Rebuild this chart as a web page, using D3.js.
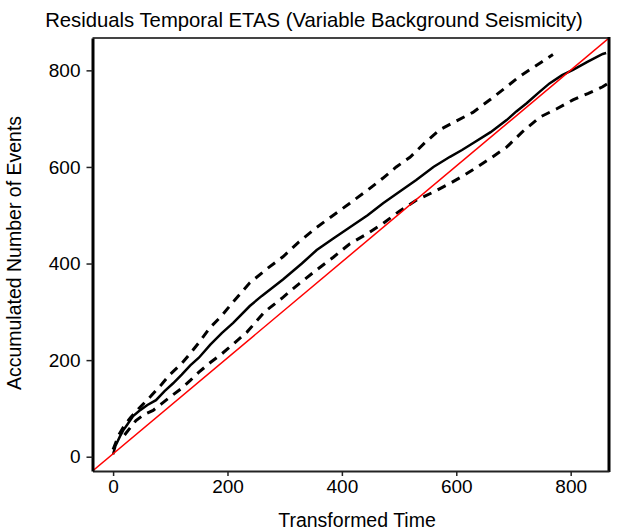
<!DOCTYPE html>
<html>
<head>
<meta charset="utf-8">
<script src="https://cdn.jsdelivr.net/npm/d3@7"></script>
<style>
  html, body { margin: 0; padding: 0; background: #fff; }
  svg { display: block; }
  text { font-family: "Liberation Sans", Arial, sans-serif; fill: #000; }
</style>
</head>
<body>
<svg id="chart" width="622" height="531"></svg>
<script>
// ---- data ----
const title = "Residuals Temporal ETAS (Variable Background Seismicity)";
const xLabel = "Transformed Time";
const yLabel = "Accumulated Number of Events";
const xTicks = [0, 200, 400, 600, 800];
const yTicks = [0, 200, 400, 600, 800];
const xDomain = [-36, 867];
const yDomain = [-29.6, 867];

// observed cumulative events vs transformed time
const observed = [
  [0, 5], [4, 22], [8, 32], [12, 42], [18, 55], [24, 65], [35, 84], [48, 97],
  [60, 107], [75, 117], [90, 136], [105, 152], [120, 170], [135, 189], [150, 205],
  [170, 232], [190, 256], [210, 277], [239, 312], [260, 333], [297, 367], [330, 400],
  [356, 428], [385, 452], [414, 475], [445, 500], [472, 525], [500, 548], [530, 573],
  [560, 600], [589, 621], [610, 635], [629, 649], [660, 672], [688, 697], [705, 715],
  [723, 732], [745, 755], [763, 773], [785, 790], [804, 801], [830, 818], [856, 834],
  [862, 836]
];
// upper confidence bound
const upperBound = [
  [0, 15], [10, 45], [20, 65], [30, 80], [45, 100], [65, 124], [85, 150], [100, 171],
  [120, 193], [135, 214], [150, 236], [170, 268], [190, 292], [208, 318], [239, 360],
  [270, 390], [297, 414], [325, 445], [356, 475], [385, 500], [414, 525], [445, 552],
  [472, 577], [495, 600], [519, 620], [545, 650], [571, 677], [600, 695], [629, 713],
  [660, 740], [688, 766], [708, 785], [728, 801], [750, 818], [769, 833]
];
// lower confidence bound
const lowerBound = [
  [20, 45], [40, 75], [55, 88], [70, 96], [85, 110], [100, 124], [118, 140], [135, 158],
  [150, 175], [170, 195], [190, 213], [204, 227], [234, 258], [265, 300], [297, 330],
  [325, 358], [356, 387], [385, 413], [414, 441], [445, 462], [472, 483], [500, 508],
  [530, 531], [560, 548], [589, 566], [610, 580], [629, 594], [660, 618], [688, 641],
  [715, 672], [746, 703], [775, 720], [804, 739], [830, 752], [856, 766], [866, 774]
];
// expected line (corner to corner)
const expected = [[-36, -29.6], [867, 867]];

// ---- layout ----
const svg = d3.select("#chart");
const pLeft = 92.5, pRight = 609, pTop = 38, pBottom = 471;

const x = d3.scaleLinear().domain(xDomain).range([pLeft, pRight]);
const y = d3.scaleLinear().domain(yDomain).range([pBottom, pTop]);

svg.append("defs").append("clipPath").attr("id", "clip")
  .append("rect").attr("x", pLeft).attr("y", pTop)
  .attr("width", pRight - pLeft).attr("height", pBottom - pTop);

const plot = svg.append("g").attr("clip-path", "url(#clip)");
const line = d3.line().x(d => x(d[0])).y(d => y(d[1]));

plot.append("path").datum(upperBound).attr("d", line)
  .attr("fill", "none").attr("stroke", "#000").attr("stroke-width", 3)
  .attr("stroke-dasharray", "9,7");
plot.append("path").datum(lowerBound).attr("d", line)
  .attr("fill", "none").attr("stroke", "#000").attr("stroke-width", 3)
  .attr("stroke-dasharray", "9,7");
plot.append("path").datum(observed).attr("d", line)
  .attr("fill", "none").attr("stroke", "#000").attr("stroke-width", 2.5);
plot.append("path").datum(expected).attr("d", line)
  .attr("fill", "none").attr("stroke", "#ff0000").attr("stroke-width", 1.5);

// frame
svg.append("line").attr("x1", pLeft).attr("x2", pRight).attr("y1", pTop).attr("y2", pTop)
  .attr("stroke", "#444").attr("stroke-width", 2);
svg.append("line").attr("x1", pRight).attr("x2", pRight).attr("y1", pTop - 1).attr("y2", pBottom + 1)
  .attr("stroke", "#000").attr("stroke-width", 3);

// axes
const xAxis = d3.axisBottom(x).tickValues(xTicks).tickSize(5).tickSizeOuter(0).tickPadding(4);
const gx = svg.append("g").attr("transform", `translate(0,${pBottom})`).call(xAxis);
gx.select(".domain").attr("stroke", "#222").attr("stroke-width", 2);
gx.selectAll(".tick line").attr("stroke", "#222").attr("stroke-width", 1.5);
gx.selectAll(".tick text").attr("font-size", 19).attr("font-family", "Liberation Sans, Arial, sans-serif")
  .attr("fill", "#000");

const yAxis = d3.axisLeft(y).tickValues(yTicks).tickSize(6).tickSizeOuter(0).tickPadding(6);
const gy = svg.append("g").attr("transform", `translate(${pLeft},0)`).call(yAxis);
gy.select(".domain").attr("stroke", "#000").attr("stroke-width", 3);
gy.selectAll(".tick line").attr("stroke", "#222").attr("stroke-width", 1.5);
gy.selectAll(".tick text").attr("font-size", 19).attr("font-family", "Liberation Sans, Arial, sans-serif")
  .attr("fill", "#000");

// titles
svg.append("text").attr("x", 314).attr("y", 27).attr("text-anchor", "middle")
  .attr("font-size", 20.3).text(title);
svg.append("text").attr("x", 357).attr("y", 527).attr("text-anchor", "middle")
  .attr("font-size", 19.5).text(xLabel);
svg.append("text").attr("transform", "translate(21,253) rotate(-90)").attr("text-anchor", "middle")
  .attr("font-size", 19.5).text(yLabel);
</script>
</body>
</html>
